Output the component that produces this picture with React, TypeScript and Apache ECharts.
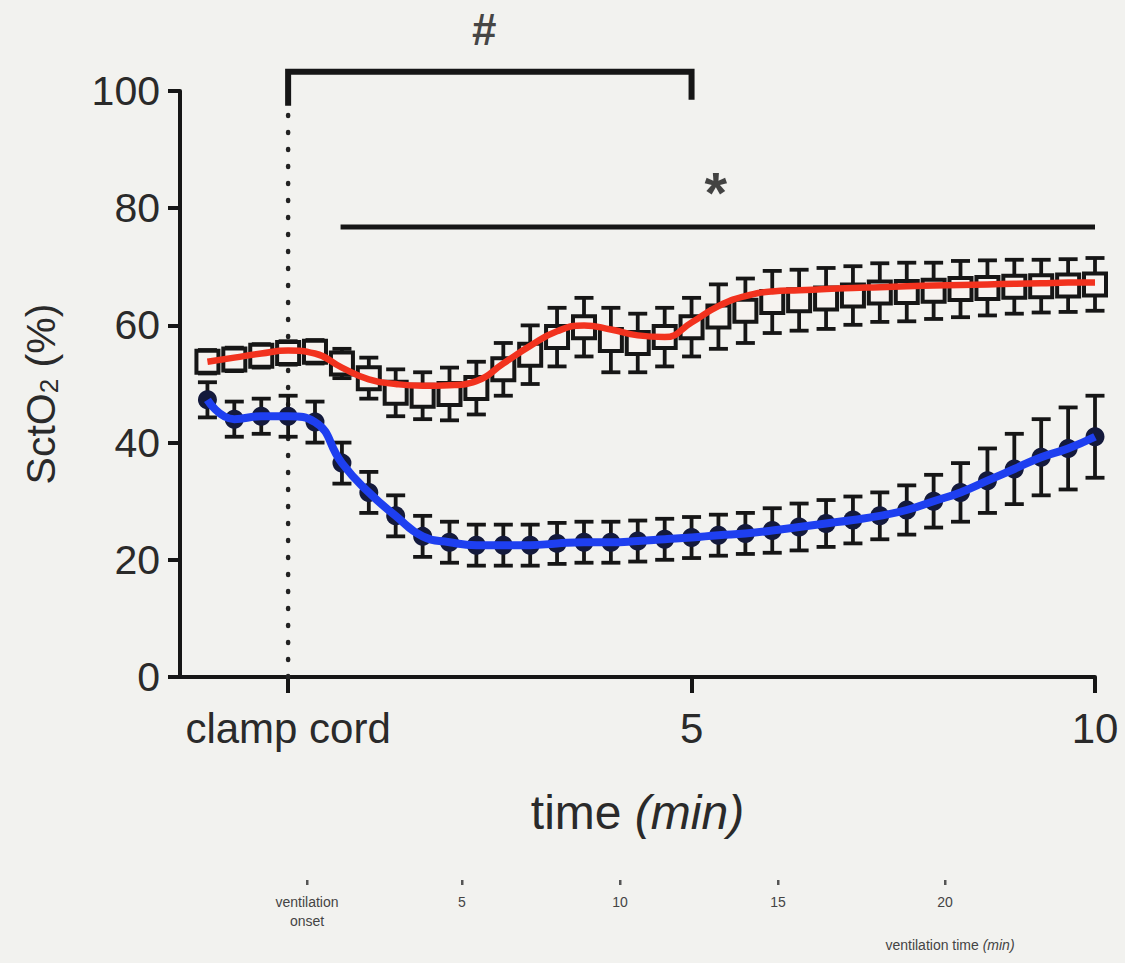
import React, { useEffect, useRef } from 'react';
import * as echarts from 'echarts';

const times = [-1, -0.667, -0.333, 0, 0.333, 0.667, 1, 1.333, 1.667, 2, 2.333, 2.667, 3, 3.333, 3.667, 4, 4.333, 4.667, 5, 5.333, 5.667, 6, 6.333, 6.667, 7, 7.333, 7.667, 8, 8.333, 8.667, 9, 9.333, 9.667, 10];

const blueMean = [47.3, 44, 44.5, 44.5, 43.5, 36.5, 31.5, 27.5, 24, 23, 22.5, 22.5, 22.5, 22.8, 23, 23, 23.2, 23.5, 23.8, 24.2, 24.5, 25, 25.6, 26.2, 26.8, 27.5, 28.5, 30, 31.5, 33.5, 35.5, 37.5, 39, 41];
const blueErr = [3, 3, 3, 3.5, 3.5, 3.5, 3.5, 3.5, 3.5, 3.5, 3.5, 3.5, 3.5, 3.5, 3.5, 3.5, 3.5, 3.5, 3.5, 3.5, 3.5, 3.8, 4, 4, 4, 4, 4.2, 4.5, 5, 5.5, 6, 6.5, 7, 7];

const redMean = [53.8, 54.2, 54.8, 55.3, 55.5, 53.5, 51, 48.5, 48, 48.3, 49.3, 52.5, 55, 58, 59.7, 57.5, 57, 58, 59.7, 61.5, 62.5, 64, 64.3, 64.6, 65.1, 65.6, 65.7, 65.9, 66.2, 66.4, 66.6, 66.7, 66.8, 67];
const redErr = [2, 2, 2, 2, 2, 2.5, 3.5, 4, 4, 4.5, 4.5, 4.5, 5, 5, 5, 5.5, 5, 5, 5, 5.5, 5.5, 5.3, 5.2, 5.2, 5, 5, 5, 4.8, 4.8, 4.7, 4.6, 4.5, 4.5, 4.5];
const redFit = [53.8, 54.5, 55.2, 55.7, 55.2, 52.8, 50.8, 50, 49.7, 49.8, 50.5, 53.5, 56.5, 59, 60, 59.3, 58.3, 58, 60.5, 63.3, 65, 65.8, 66, 66.2, 66.4, 66.5, 66.7, 66.8, 66.9, 67, 67.1, 67.2, 67.3, 67.3];

const xTicks = [0, 5, 10];
const xTickLabels = ['clamp cord', '5', '10'];
const hashBracket = [[0, 97.5], [0, 103.3], [5, 103.3], [5, 98.5]];
const starLine = [[0.65, 76.8], [10, 76.8]];
const onsetLine = [[0, 0], [0, 97]];
const hashMark = [[2.43, 110.5, '#']];
const starMark = [[5.3, 82.6, '*']];

const bottomLabels = [
  { text: 'ventilation\nonset', x: 307, y: 892 },
  { text: '5', x: 462, y: 892 },
  { text: '10', x: 620, y: 892 },
  { text: '15', x: 778, y: 892 },
  { text: '20', x: 945, y: 892 },
];

const FONT = '"Liberation Sans", Arial, Helvetica, sans-serif';
const INK = '#161616';
const TXT = '#2a2a2a';

function errSeries(name: string, mean: number[], err: number[], z: number) {
  return {
    type: 'custom',
    name,
    z,
    clip: false,
    data: times.map((t, i) => [t, mean[i] - err[i], mean[i] + err[i]]),
    encode: { x: 0, y: [1, 2] },
    renderItem: (params: any, api: any) => {
      const x = api.value(0);
      const p1 = api.coord([x, api.value(1)]);
      const p2 = api.coord([x, api.value(2)]);
      const hw = 9.5;
      const style = { stroke: INK, lineWidth: 3.8 };
      return {
        type: 'group',
        children: [
          { type: 'line', shape: { x1: p1[0], y1: p1[1], x2: p2[0], y2: p2[1] }, style },
          { type: 'line', shape: { x1: p1[0] - hw, y1: p1[1], x2: p1[0] + hw, y2: p1[1] }, style },
          { type: 'line', shape: { x1: p2[0] - hw, y1: p2[1], x2: p2[0] + hw, y2: p2[1] }, style },
        ],
      };
    },
  };
}

function markSeries(data: any[], fontSize: number, weight: string) {
  return {
    type: 'scatter',
    data,
    symbolSize: 1,
    clip: false,
    z: 9,
    itemStyle: { color: 'rgba(0,0,0,0)' },
    label: {
      show: true,
      position: 'inside',
      formatter: (p: any) => p.value[2],
      fontSize,
      fontWeight: weight,
      color: INK,
      fontFamily: FONT,
    },
  };
}

export default function App() {
  const ref = useRef<HTMLDivElement>(null);
  useEffect(() => {
    document.body.style.margin = '0';
    const chart = echarts.init(ref.current!, undefined, { renderer: 'svg' });
    const option: any = {
      animation: false,
      backgroundColor: '#f2f2ef',
      grid: { left: 180, right: 30, top: 91, bottom: 286 },
      xAxis: {
        type: 'value',
        min: -1.34,
        max: 10,
        splitLine: { show: false },
        axisLine: { onZero: false, lineStyle: { color: INK, width: 4 } },
        axisTick: { show: true, customValues: xTicks, length: 16, lineStyle: { color: INK, width: 4 } },
        axisLabel: {
          customValues: xTicks,
          formatter: (v: number) => xTickLabels[xTicks.indexOf(v)] ?? String(v),
          fontSize: 42,
          color: TXT,
          fontFamily: FONT,
          margin: 30,
        },
        name: 'time {it|(min)}',
        nameLocation: 'middle',
        nameGap: 111,
        nameTextStyle: {
          fontSize: 48,
          color: TXT,
          fontFamily: FONT,
          rich: { it: { fontSize: 48, fontStyle: 'italic', color: TXT, fontFamily: FONT } },
        },
      },
      yAxis: {
        type: 'value',
        min: 0,
        max: 100,
        interval: 20,
        splitLine: { show: false },
        axisLine: { show: true, onZero: false, lineStyle: { color: INK, width: 4 } },
        axisTick: { show: true, length: 12, lineStyle: { color: INK, width: 4 } },
        axisLabel: { fontSize: 41, color: TXT, fontFamily: FONT, margin: 20 },
        name: 'SctO{sub|2} (%)',
        nameLocation: 'middle',
        nameGap: 118,
        nameRotate: 90,
        nameTextStyle: {
          fontSize: 41,
          color: TXT,
          fontFamily: FONT,
          padding: [0, 20, 0, 0],
          rich: { sub: { fontSize: 26, color: TXT, fontFamily: FONT, padding: [16, 0, 0, 0] } },
        },
      },
      series: [
        {
          type: 'line',
          data: onsetLine,
          symbol: 'none',
          clip: false,
          z: 1,
          lineStyle: { color: '#222', width: 4.5, type: [1, 16], cap: 'round' },
        },
        errSeries('redErr', redMean, redErr, 2),
        {
          type: 'scatter',
          name: 'red',
          z: 3,
          data: times.map((t, i) => [t, redMean[i]]),
          symbol: 'rect',
          symbolSize: 22,
          itemStyle: { color: '#f6f3f0', borderColor: INK, borderWidth: 4, opacity: 1 },
        },
        {
          type: 'line',
          z: 4,
          data: times.map((t, i) => [t, redFit[i]]),
          symbol: 'none',
          smooth: 0.5,
          lineStyle: { color: '#f2321e', width: 6.5 },
        },
        errSeries('blueErr', blueMean, blueErr, 5),
        {
          type: 'scatter',
          name: 'blue',
          z: 6,
          data: times.map((t, i) => [t, blueMean[i]]),
          symbol: 'circle',
          symbolSize: 19,
          itemStyle: { color: '#141a3c', opacity: 1 },
        },
        {
          type: 'line',
          z: 7,
          data: times.map((t, i) => [t, blueMean[i]]),
          symbol: 'none',
          smooth: 0.5,
          lineStyle: { color: '#1e3ff0', width: 8 },
        },
        {
          type: 'line',
          data: hashBracket,
          symbol: 'none',
          clip: false,
          z: 8,
          lineStyle: { color: INK, width: 6, join: 'miter' },
        },
        {
          type: 'line',
          data: starLine,
          symbol: 'none',
          clip: false,
          z: 8,
          lineStyle: { color: INK, width: 5 },
        },
        markSeries(hashMark, 44, 'bold'),
        markSeries(starMark, 58, 'bold'),
      ],
      graphic: [
        ...bottomLabels.map((b) => ({
          type: 'text',
          x: b.x,
          y: b.y,
          style: {
            text: b.text,
            fontSize: 14,
            fill: '#444',
            fontFamily: FONT,
            align: 'center',
            verticalAlign: 'top',
            lineHeight: 19,
          },
        })),
        ...bottomLabels.map((b) => ({
          type: 'rect',
          shape: { x: b.x - 1, y: 880, width: 2.5, height: 5 },
          style: { fill: '#555' },
        })),
        {
          type: 'text',
          x: 950,
          y: 938,
          style: {
            text: 'ventilation time {i|(min)}',
            fontSize: 14,
            fill: '#444',
            fontFamily: FONT,
            align: 'center',
            rich: { i: { fontStyle: 'italic', fontSize: 14, fill: '#444', fontFamily: FONT } },
          },
        },
      ],
    };
    chart.setOption(option);
    return () => chart.dispose();
  }, []);
  return <div ref={ref} style={{ width: 1125, height: 963, background: '#f2f2ef' }} />;
}
